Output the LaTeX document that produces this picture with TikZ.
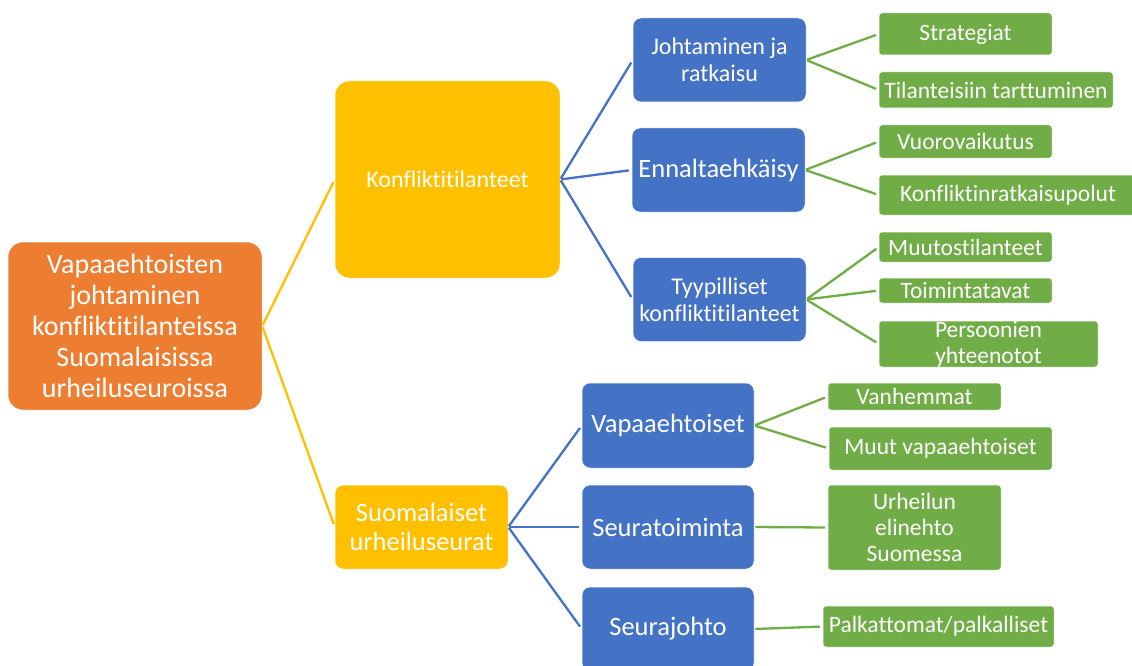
\documentclass[tikz,border=0pt]{standalone}
\usepackage{fontspec}
\setmainfont{Carlito}[Ligatures=NoCommon, RawFeature={-calt}]
\definecolor{cOrange}{HTML}{ED7D31}
\definecolor{cYellow}{HTML}{FFC000}
\definecolor{cBlue}{HTML}{4472C4}
\definecolor{cGreen}{HTML}{70AD47}
\tikzset{
  box/.style={rectangle, inner sep=0pt, text=white, align=center, draw=white, line width=0.5pt},
  orangebox/.style={box, fill=cOrange, rounded corners=15pt, font=\fontsize{28}{31}\selectfont},
  yellowbox/.style={box, fill=cYellow, rounded corners=14pt},
  bluebox/.style={box, fill=cBlue, rounded corners=8pt},
  greenbox/.style={box, fill=cGreen, rounded corners=3pt, font=\fontsize{23.5}{26}\selectfont},
  fa/.style={font=\fontsize{24}{27}\selectfont},
  fb/.style={font=\fontsize{26.5}{29}\selectfont},
  sz/.style n args={2}{minimum width=#1pt, minimum height=#2pt},
  link/.style={line width=2.3pt, shorten >=3pt, shorten <=1pt},
  ylink/.style={link, draw=cYellow},
  blink/.style={link, draw=cBlue},
  glink/.style={link, draw=cGreen}
}
\begin{document}
\begin{tikzpicture}[x=1pt, y=-1pt]
\useasboundingbox[fill=white] (0,0) rectangle (1132,666);

% level 0
\node[orangebox, sz={254}{168}] (root) at (135,326)
  {Vapaaehtoisten\\johtaminen\\konfliktitilanteissa\\Suomalaisissa\\urheiluseuroissa};

% level 1
\node[yellowbox, fa, sz={225}{197}] (konf) at (447.5,179.5) {Konfliktitilanteet};
\node[yellowbox, fb, sz={173}{84}, rounded corners=8pt] (suom) at (421.5,527) {Suomalaiset\\urheiluseurat};

% level 2
\node[bluebox, fa, sz={173}{84}] (joht) at (719.5,60) {Johtaminen ja\\ratkaisu};
\node[bluebox, fb, sz={173}{84}] (enna) at (718.5,170) {Ennaltaehkäisy};
\node[bluebox, fa, sz={173}{84}] (tyyp) at (719.5,299.5) {Tyypilliset\\konfliktitilanteet};
\node[bluebox, fb, sz={172}{85}] (vapa) at (668,425.5) {Vapaaehtoiset};
\node[bluebox, fb, sz={172}{84}] (seur) at (668,527) {Seuratoiminta};
\node[bluebox, fb, sz={172}{84}] (sjoh) at (668,629) {Seurajohto};

% level 3
\node[greenbox, sz={173}{42}] (strat) at (965.5,34) {Strategiat};
\node[greenbox, sz={234}{36}] (tila) at (996,90) {Tilanteisiin tarttuminen};
\node[greenbox, sz={173}{33}] (vuor) at (965.5,141.5) {Vuorovaikutus};
\node[greenbox, sz={258}{40}] (konfr) at (1008,195) {Konfliktinratkaisupolut};
\node[greenbox, sz={173}{30}] (muut) at (965.5,247) {Muutostilanteet};
\node[greenbox, sz={173}{25}] (toim) at (965.5,290.5) {Toimintatavat};
\node[greenbox, sz={219}{46}] (pers) at (988.5,344) {Persoonien\\yhteenotot};
\node[greenbox, sz={173}{27}] (vanh) at (914.5,396.5) {Vanhemmat};
\node[greenbox, sz={223}{43}] (muutv) at (940.5,448.5) {Muut vapaaehtoiset};
\node[greenbox, sz={173}{85}] (urhe) at (914.5,527.5) {Urheilun\\elinehto\\Suomessa};
\node[greenbox, sz={231}{41}] (palk) at (938.5,626.5) {Palkattomat/palkalliset};

% connectors
\draw[ylink] (root.east) -- (konf.west);
\draw[ylink] (root.east) -- (suom.west);

\draw[blink] (konf.east) -- (joht.west);
\draw[blink] (konf.east) -- (enna.west);
\draw[blink] (konf.east) -- (tyyp.west);
\draw[blink] (suom.east) -- (vapa.west);
\draw[blink] (suom.east) -- (seur.west);
\draw[blink] (suom.east) -- (sjoh.west);

\draw[glink] (joht.east) -- (strat.west);
\draw[glink] (joht.east) -- (tila.west);
\draw[glink] (enna.east) -- (vuor.west);
\draw[glink] (enna.east) -- (konfr.west);
\draw[glink] (tyyp.east) -- (muut.west);
\draw[glink] (tyyp.east) -- (toim.west);
\draw[glink] (tyyp.east) -- (pers.west);
\draw[glink] (vapa.east) -- (vanh.west);
\draw[glink] (vapa.east) -- (muutv.west);
\draw[glink] (seur.east) -- (urhe.west);
\draw[glink] (sjoh.east) -- (palk.west);
\end{tikzpicture}
\end{document}
